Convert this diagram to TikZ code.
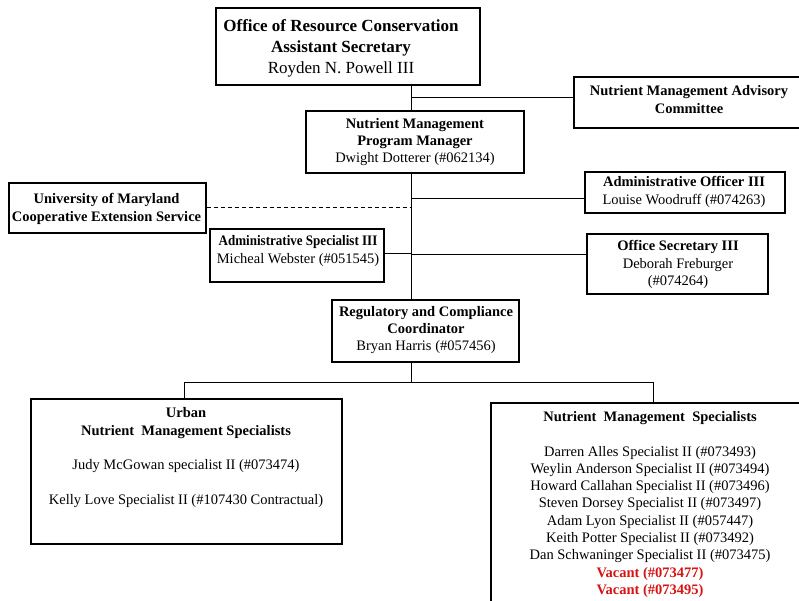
\documentclass[tikz,border=0pt]{standalone}
\usepackage{fontspec}
\setmainfont{Liberation Serif}
\definecolor{vacred}{RGB}{215,20,20}
\begin{document}
\begin{tikzpicture}[x=1pt,y=-1pt,
  box/.style={draw, line width=1.2pt, inner sep=0pt},
  txt/.style={align=center, inner sep=0pt, font=\fontsize{14.5}{17.3}\selectfont},
  bigtxt/.style={align=center, inner sep=0pt, font=\fontsize{17}{21}\selectfont},
  conn/.style={line width=1pt}]
\useasboundingbox (0,0) rectangle (799,601);
\coordinate (trunk) at (411,0);
\coordinate (bl) at (184,382);
\coordinate (br) at (653,382);
% boxes
\node[box, minimum width=264pt, minimum height=77pt] (top) at (348,46.5) {};
\node[bigtxt] (topt) at (341,48) {\textbf{Office of Resource Conservation}\\\textbf{Assistant Secretary}\\Royden N. Powell III};
\node[box, minimum width=227pt, minimum height=51pt] (adv) at (687.5,102.5) {};
\node[txt] (advt) at (689,99.5) {\textbf{Nutrient Management Advisory}\\\textbf{Committee}};
\node[box, minimum width=218pt, minimum height=62pt] (pm) at (415,142) {};
\node[txt] (pmt) at (415,142) {\textbf{Nutrient Management}\\\textbf{Program Manager}\\Dwight Dotterer (\#062134)};
\node[box, minimum width=197pt, minimum height=50pt] (umd) at (107.5,208) {};
\node[txt] (umdt) at (106.5,209) {\textbf{University of Maryland}\\\textbf{Cooperative Extension Service}};
\node[box, minimum width=200pt, minimum height=41pt] (ao) at (685,192.5) {};
\node[txt] (aot) at (684,192) {\textbf{Administrative Officer III}\\Louise Woodruff (\#074263)};
\node[box, minimum width=174pt, minimum height=53pt] (as) at (297,255.5) {};
\node[txt] (ast) at (298,251) {\scalebox{0.9}[1]{\textbf{Administrative Specialist III}}\\Micheal Webster (\#051545)};
\node[box, minimum width=181pt, minimum height=60pt] (os) at (677.5,264) {};
\node[txt] (ost) at (678,264.5) {\textbf{Office Secretary III}\\Deborah Freburger\\(\#074264)};
\node[box, minimum width=187pt, minimum height=62pt] (reg) at (425.5,331) {};
\node[txt] (regt) at (426,330) {\textbf{Regulatory and Compliance}\\\textbf{Coordinator}\\Bryan Harris (\#057456)};
\node[box, minimum width=311pt, minimum height=145pt] (urban) at (186.5,471.5) {};
\node[txt] (urbant) at (186,457.5) {\textbf{Urban}\\\textbf{Nutrient\ \ Management Specialists}\\[17.3pt]Judy McGowan specialist II (\#073474)\\[17.3pt]Kelly Love Specialist II (\#107430 Contractual)};
\node[box, minimum width=314pt, minimum height=207pt] (nms) at (648,506.5) {};
\node[txt] (nmst) at (650,504.5) {\textbf{Nutrient\ \ Management\ \ Specialists}\\[17.3pt]
Darren Alles Specialist II (\#073493)\\
Weylin Anderson Specialist II (\#073494)\\
Howard Callahan Specialist II (\#073496)\\
Steven Dorsey Specialist II (\#073497)\\
Adam Lyon Specialist II (\#057447)\\
Keith Potter Specialist II (\#073492)\\
Dan Schwaninger Specialist II (\#073475)\\
\textcolor{vacred}{\textbf{Vacant (\#073477)}}\\
\textcolor{vacred}{\textbf{Vacant (\#073495)}}};
% connectors
\draw[conn] (top.south -| trunk) -- (pm.north -| trunk);
\draw[conn] (trunk |- 0,98) -- ([yshift=4.5pt]adv.west);
\draw[conn] (pm.south -| trunk) -- (reg.north -| trunk);
\draw[conn, dashed, dash pattern=on 4pt off 3pt] (umd.east) -- (umd.east -| trunk);
\draw[conn] (trunk |- 0,199) -- ([yshift=-6.5pt]ao.west);
\draw[conn] ([yshift=1.5pt]as.east) -- (trunk |- 0,254);
\draw[conn] (trunk |- 0,255) -- ([yshift=9pt]os.west);
\draw[conn] (reg.south -| trunk) -- (trunk |- bl);
\draw[conn] (bl |- urban.north) -- (bl) -- (br) -- (br |- nms.north);
\end{tikzpicture}
\end{document}
